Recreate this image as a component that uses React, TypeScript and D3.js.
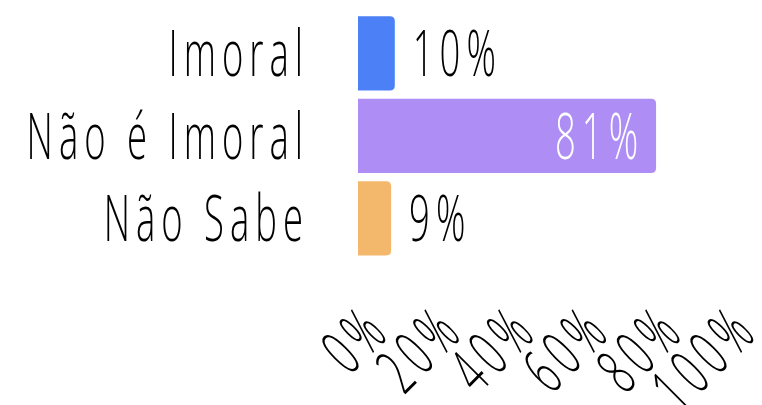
import React from "react";
import * as d3 from "d3";

const categories = ["Imoral", "Não é Imoral", "Não Sabe"];
const values = [10, 81, 9];
const colors = ["#4b80f6", "#ae8ef4", "#f4b86c"];
const tickValues = [0, 20, 40, 60, 80, 100];

const W = 762;
const H = 405;
const FONT = "'Open Sans', 'DejaVu Sans', sans-serif";
const FS = 64;
const SX = 0.57;
const LS = 10.5;

function CText({ x, y, text, anchor, fill, rotate = 0 }: any) {
  const dx = anchor === "end" ? LS : 0;
  return (
    <text
      transform={`translate(${x},${y}) rotate(${rotate}) scale(${SX},1)`}
      textAnchor={anchor}
      fontFamily={FONT}
      fontWeight={300}
      fontSize={FS}
      letterSpacing={LS}
      fill={fill}
      dx={dx}
    >
      {text}
    </text>
  );
}

export default function App() {
  const x = d3.scaleLinear().domain([0, 100]).range([358, 726]);
  const y = d3
    .scaleBand<string>()
    .domain(categories)
    .range([12, 259.5])
    .paddingInner(0.1)
    .paddingOuter(0.05);
  const bw = y.bandwidth();
  const r = 5;

  const barPath = (x0: number, x1: number, y0: number, h: number) => {
    const rr = Math.min(r, (x1 - x0) / 2);
    return `M${x0},${y0}H${x1 - rr}Q${x1},${y0} ${x1},${y0 + rr}V${y0 + h - rr}Q${x1},${y0 + h} ${x1 - rr},${y0 + h}H${x0}Z`;
  };

  return (
    <svg
      width={W}
      height={H}
      style={{ position: "absolute", left: 0, top: 0, background: "#fff" }}
    >
      {categories.map((c, i) => {
        const y0 = y(c)!;
        const cy = y0 + bw / 2;
        const base = cy + 23;
        const xe = x(values[i]);
        const inside = values[i] > 50;
        return (
          <g key={c}>
            <path d={barPath(x(0), xe, y0, bw)} fill={colors[i]} />
            <CText x={303} y={base} text={c} anchor="end" fill="#000" />
            {inside ? (
              <CText x={xe - 18} y={base} text={`${values[i]}%`} anchor="end" fill="#fff" />
            ) : (
              <CText x={xe + 18} y={base} text={`${values[i]}%`} anchor="start" fill="#000" />
            )}
          </g>
        );
      })}
      {tickValues.map((t) => (
        <CText
          key={t}
          x={x(t) + 31}
          y={337}
          text={`${t}%`}
          anchor="end"
          fill="#000"
          rotate={-45}
        />
      ))}
    </svg>
  );
}
